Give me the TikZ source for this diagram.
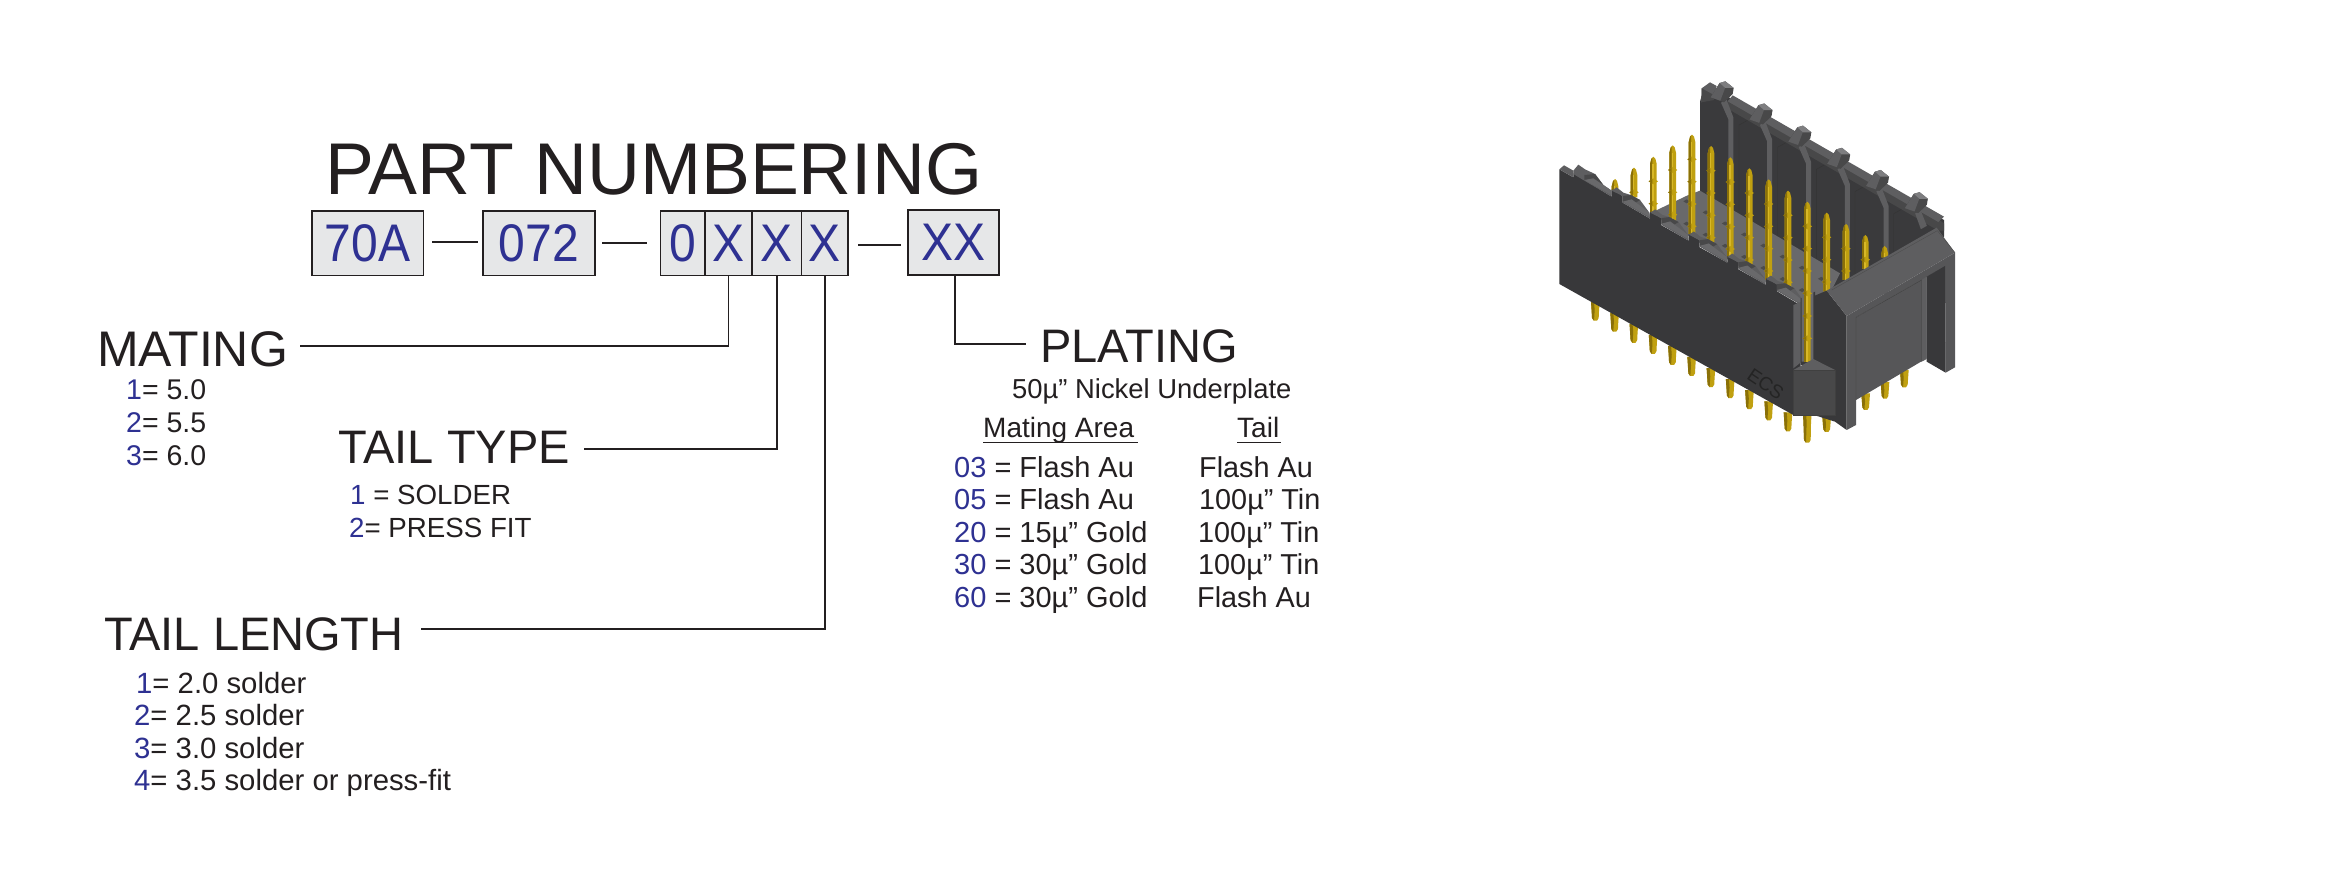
\documentclass[tikz,border=0pt]{standalone}
\usepackage{fontspec}
\usepackage{graphicx}
\setmainfont{Liberation Sans}
\definecolor{ink}{HTML}{231F20}
\definecolor{numblue}{HTML}{2E3192}
\definecolor{boxfill}{HTML}{E6E7E8}
\definecolor{wall}{HTML}{38383A}
\definecolor{wallb}{HTML}{3A3A3C}
\definecolor{rim}{HTML}{5E5E60}
\definecolor{rimd}{HTML}{484849}
\definecolor{floorc}{HTML}{69696B}
\definecolor{endf}{HTML}{565658}
\definecolor{pinl}{HTML}{C0A010}
\definecolor{pind}{HTML}{8A7008}
\definecolor{pinh}{HTML}{D8B828}
\tikzset{
 cell/.style={draw=ink,line width=1.5pt,fill=boxfill,inner sep=0pt,minimum height=64.5pt,font=\fontsize{49}{49}\selectfont,text=numblue},
 big/.style={anchor=base west,inner sep=0pt,text=ink,font=\fontsize{47}{47}\selectfont},
 small/.style={anchor=base west,inner sep=0pt,text=ink,font=\fontsize{29}{29}\selectfont},
 wire/.style={draw=ink,line width=1.6pt},
}
\newcommand{\nb}[1]{\textcolor{numblue}{#1}}
\newcommand{\tallt}[1]{\scalebox{0.98}[1.08]{#1}}
\newcommand{\pinbody}[3]{% x, top, bottom
 \fill[pinl] ({#1-10},{#2+22}) -- ({#1-6},{#2+6}) -- (#1,#2) -- ({#1+6},{#2+6}) -- ({#1+10},{#2+22}) -- ({#1+10},#3) -- ({#1-10},#3) -- cycle;
 \fill[pind] ({#1-10},{#2+22}) -- ({#1-6},{#2+6}) -- ({#1-3},{#2+3}) -- ({#1-3},#3) -- ({#1-10},#3) -- cycle;
 \fill[pinh] ({#1-3},{#2+22}) rectangle ({#1+1},#3);
}
\newcommand{\tailpin}[3]{% x, top, bottom
 \fill[pinl] ({#1-13},#2) -- ({#1+13},#2) -- ({#1+11},{#2+28}) -- ({#1+10},{#3-8}) -- ({#1+5},#3) -- ({#1-5},#3) -- ({#1-10},{#3-8}) -- ({#1-11},{#2+28}) -- cycle;
 \fill[pind] ({#1-13},#2) -- ({#1-4},#2) -- ({#1-2},{#2+25}) -- ({#1-4},#3) -- ({#1-10},{#3-8}) -- cycle;
}
\begin{document}
\begin{tikzpicture}[x=1pt,y=-1pt]
\useasboundingbox[fill=white] (0,0) rectangle (2325,880);
% ---- title
\node[anchor=base west,inner sep=0pt,text=ink,font=\fontsize{73.3}{74}\selectfont] (title) at (325,194) {PART NUMBERING};
% ---- boxes
\node[cell,minimum width=111.5pt] (a) at (367.5,243) {\tallt{70A}};
\node[cell,minimum width=112pt] (b) at (539,243) {\tallt{072}};
\node[cell,minimum width=44.5pt] (c0) at (682.75,243) {\tallt{0}};
\node[cell,minimum width=47pt] (c1) at (728.5,243) {\tallt{X}};
\node[cell,minimum width=49.5pt] (c2) at (777,243) {\tallt{X}};
\node[cell,minimum width=46.5pt] (c3) at (824.75,243) {\tallt{X}};
\node[cell,minimum width=91pt,minimum height=65.5pt,line width=2.4pt] (xx) at (953.5,242.5) {\tallt{XX}};
% dashes
\coordinate (d1a) at (432,242); \coordinate (d1b) at (478,242);
\coordinate (d2a) at (602,243); \coordinate (d2b) at (647,243);
\coordinate (d3a) at (858,245); \coordinate (d3b) at (901,245);
\draw[wire] (d1a) -- (d1b);
\draw[wire] (d2a) -- (d2b);
\draw[wire] (d3a) -- (d3b);
% ---- labels
\node[big,font=\fontsize{50}{50}\selectfont] (mating) at (97,366) {MATING};
\node[big] (tailtype) at (338,463) {TAIL TYPE};
\node[big] (taillen) at (104,650) {TAIL LENGTH};
\node[big] (plating) at (1040,362) {PLATING};
\coordinate (me) at (300,345.7);
\coordinate (te) at (584,449);
\coordinate (le) at (421,629);
\coordinate (pe) at (1026,344);
\draw[wire] (c1.south) |- (me);
\draw[wire] (c2.south) |- (te);
\draw[wire] (c3.south) |- (le);
\draw[wire] ([xshift=1.5pt]xx.south) |- (pe);
% ---- mating
\node[small,font=\fontsize{28.5}{29}\selectfont] (m1) at (126,399.7) {\nb{1}= 5.0};
\node[small,font=\fontsize{28.5}{29}\selectfont] (m2) at (126,432.7) {\nb{2}= 5.5};
\node[small,font=\fontsize{28.5}{29}\selectfont] (m3) at (126,465.7) {\nb{3}= 6.0};
% ---- tail type
\node[small,font=\fontsize{27.7}{28}\selectfont] (t1) at (350,504.7) {\nb{1} = SOLDER};
\node[small,font=\fontsize{27.7}{28}\selectfont] (t2) at (349,537.7) {\nb{2}= PRESS FIT};
% ---- tail length
\node[small,font=\fontsize{29.3}{30}\selectfont] (l1) at (136,693.7) {\nb{1}= 2.0 solder};
\node[small,font=\fontsize{29.3}{30}\selectfont] (l2) at (134,725.7) {\nb{2}= 2.5 solder};
\node[small,font=\fontsize{29.3}{30}\selectfont] (l3) at (134,758.7) {\nb{3}= 3.0 solder};
\node[small,font=\fontsize{29.3}{30}\selectfont] (l4) at (134,790.7) {\nb{4}= 3.5 solder or press-fit};
% ---- plating
\node[small,font=\fontsize{27.4}{28}\selectfont] (p0) at (1012,398) {50µ” Nickel Underplate};
\node[small,font=\fontsize{28}{28}\selectfont] (pa) at (983,437) {Mating Area};
\node[small,font=\fontsize{28}{28}\selectfont] (pb) at (1237,437) {Tail};
\coordinate (ua1) at (983,442); \coordinate (ua2) at (1138,442);
\coordinate (ub1) at (1237,442); \coordinate (ub2) at (1281,442);
\draw[draw=ink,line width=1pt] (ua1) -- (ua2);
\draw[draw=ink,line width=1pt] (ub1) -- (ub2);
\node[small] (r1) at (954,477) {\nb{03} = Flash Au};
\node[small] (r2) at (954,509) {\nb{05} = Flash Au};
\node[small] (r3) at (954,542) {\nb{20} = 15µ” Gold};
\node[small] (r4) at (954,574) {\nb{30} = 30µ” Gold};
\node[small] (r5) at (954,607) {\nb{60} = 30µ” Gold};
\node[small,font=\fontsize{28.8}{29}\selectfont] (s1) at (1199,477) {Flash Au};
\node[small,font=\fontsize{28.8}{29}\selectfont] (s2) at (1199,509) {100µ” Tin};
\node[small,font=\fontsize{28.8}{29}\selectfont] (s3) at (1198,542) {100µ” Tin};
\node[small,font=\fontsize{28.8}{29}\selectfont] (s4) at (1198,574) {100µ” Tin};
\node[small,font=\fontsize{28.8}{29}\selectfont] (s5) at (1197,607) {Flash Au};
% ---- connector
\begin{scope}[shift={(1540,60)},x=0.33333pt,y=-0.33333pt]
% tails
\foreach \i in {0,...,10}{
 \pgfmathsetmacro{\tx}{166+57.8*\i}
 \pgfmathsetmacro{\ta}{725+33.2*\i}
 \pgfmathsetmacro{\tb}{782+33.2*\i}
 \tailpin{\tx}{\ta}{\tb}
}
\tailpin{802}{1060}{1148}
\tailpin{860}{1070}{1116}
\tailpin{977}{1000}{1050}
\tailpin{1035}{966}{1016}
\tailpin{1093}{930}{982}
% back wall
\fill[wallb] (480,125) -- (490,90) -- (563,110) -- (1212,480) -- (1212,530) -- (880,690) -- (480,400) -- cycle;
% panel outlines
\foreach \i in {0,...,4}{
 \begin{scope}[shift={({116*\i},{66.5*\i})}]
 \draw[black!80,line width=0.35pt] (597,500) -- (597,195) -- (628,178);
 \end{scope}
}
% rim band
\fill[rimd] (563,118) -- (1195,478) -- (1212,490) -- (1212,512) -- (1195,512) -- (563,146) -- cycle;
\fill[rim] (578,106) -- (1212,470) -- (1195,486) -- (563,124) -- cycle;
% corner tab
\fill[rim] (485,85) -- (510,67) -- (530,78) -- (522,108) -- (484,127) -- cycle;
\fill[rimd] (485,85) -- (518,103) -- (522,120) -- (484,127) -- cycle;
% ribs and knobs
\foreach \i in {0,...,5}{
 \begin{scope}[shift={({116.5*\i},{66.5*\i})}]
 \ifnum\i<5
 \fill[rim] (543,128) -- (560,120) -- (580,172) -- (580,470) -- (565,460) -- (565,178) -- cycle;
 \else
 \fill[rim] (543,128) -- (560,120) -- (578,165) -- (560,175) -- cycle;
 \fi
 \fill[rimd] (512,112) -- (539,69) -- (556,64) -- (581,84) -- (578,102) -- (552,127) -- cycle;
 \fill[rim] (512,112) -- (539,69) -- (556,82) -- (541,122) -- cycle;
 \fill[rim!80!white] (539,69) -- (556,64) -- (581,84) -- (556,84) -- cycle;
 \end{scope}
}
% floor
\fill[floorc] (445,405) -- (480,392) -- (900,640) -- (870,700) -- (785,730) -- (330,460) -- cycle;
\foreach \i in {0,...,7}\foreach \j in {0,1}{
 \fill[black!70] ({440+57.7*\i},{418+33.2*\i+67*\j}) -- ++(10,6) -- ++(-10,6) -- ++(-10,-6) -- cycle;
}
% pins
\foreach \x/\t/\b in {225/357/392,282/323/412,340/290/456,398/256/482,456/224/522,513/258/548,571/292/590,628/325/618,686/358/660,744/392/684,860/458/694,918/492/660,976/525/626,1034/558/592}{
 \pinbody{\x}{\t}{\b}
 \foreach \k in {0,...,5}{
  \pgfmathsetmacro{\yy}{\t+74+67*\k}
  \pgfmathtruncatemacro{\okk}{\yy<\b-5?1:0}
  \ifnum\okk=1
   \fill[pinl] ({\x-14},\yy) -- ({\x},{\yy-9}) -- ({\x+14},\yy) -- ({\x},{\yy+9}) -- cycle;
   \fill[pind] ({\x-14},\yy) -- ({\x-3},{\yy-7}) -- ({\x-3},{\yy+7}) -- cycle;
  \fi
 }
}
% front wall with teeth
\fill[wall] (58,328) -- (100,352) -- (100,340) -- (133,360) -- (215,410)
 -- (215,388) -- (248,408) -- (248,428) -- (330,476)
 -- (330,455) -- (363,475) -- (363,495) -- (446,542)
 -- (446,522) -- (479,542) -- (479,562) -- (562,608)
 -- (562,588) -- (595,608) -- (595,628) -- (678,674)
 -- (678,654) -- (711,674) -- (711,694) -- (782,736)
 -- (782,930) -- (760,1065) -- (58,672) -- cycle;
% tooth tops
\fill[rim] (58,328) -- (72,316) -- (100,332) -- (100,352) -- cycle;
\fill[rim] (100,332) -- (115,314) -- (135,328) -- (165,342) -- (190,375) -- (215,392) -- (215,410) -- (133,362) -- (100,342) -- cycle;
\fill[rimd] (133,345) -- (165,342) -- (190,375) -- (133,360) -- cycle;
\fill[floorc] (133,360) -- (160,355) -- (215,392) -- (215,406) -- cycle;
\foreach \i in {0,...,4}{
 \begin{scope}[shift={({115.7*\i},{66.2*\i})}]
 \fill[rim] (215,392) -- (230,382) -- (250,398) -- (272,405) -- (300,420) -- (328,458) -- (330,476) -- (248,428) -- (248,408) -- cycle;
 \fill[rimd] (248,408) -- (272,405) -- (300,420) -- (280,432) -- (248,425) -- cycle;
 \fill[floorc] (248,425) -- (275,418) -- (328,458) -- (330,472) -- cycle;
 \end{scope}
}
% ECS
\node[text=black!86,rotate=-34,font=\fontsize{19}{19}\selectfont] (ecs) at (677,972) {ECS};
% channel
\fill[rim] (760,735) -- (785,725) -- (785,905) -- (760,925) -- cycle;
\fill[wallb] (782,715) -- (825,695) -- (825,915) -- (782,915) -- cycle;
\fill[floorc] (785,700) -- (820,695) -- (820,905) -- (785,905) -- cycle;
% end wall
\fill[wall] (822,708) -- (860,692) -- (920,768) -- (920,1110) -- (885,1085) -- (822,1065) -- cycle;
\fill[endf] (920,768) -- (1245,578) -- (1245,922) -- (1217,938) -- (1215,620) -- (948,772) -- (948,1095) -- (920,1110) -- cycle;
\fill[rim] (860,692) -- (1190,503) -- (1245,578) -- (920,768) -- cycle;
\draw[black!70,line width=0.35pt] (875,690) -- (1192,512) -- (1245,578);
\fill[endf] (948,772) -- (1160,650) -- (1160,895) -- (948,1020) -- cycle;
\draw[black!75,line width=0.4pt] (948,1020) -- (948,772) -- (1145,660) -- (1145,905);
\fill[wall] (1160,650) -- (1215,618) -- (1217,938) -- (1160,905) -- cycle;
\fill[rim] (1145,660) -- (1160,650) -- (1160,897) -- (1145,905) -- cycle;
% front pin
\pinbody{802}{425}{905}
\foreach \yy in {499,566,633,700,768,835}{
 \fill[pinl] (788,\yy) -- (802,{\yy-9}) -- (816,\yy) -- (802,{\yy+9}) -- cycle;
 \fill[pind] (788,\yy) -- (799,{\yy-7}) -- (799,{\yy+7}) -- cycle;
}
% centre block
\fill[rim] (760,930) -- (820,897) -- (885,930) -- cycle;
\fill[rimd] (760,930) -- (885,930) -- (885,1065) -- (760,1065) -- cycle;
\draw[black!75,line width=0.35pt] (760,930) -- (885,930) -- (885,1065) -- (760,1065) -- cycle;
\end{scope}
\end{tikzpicture}
\end{document}
